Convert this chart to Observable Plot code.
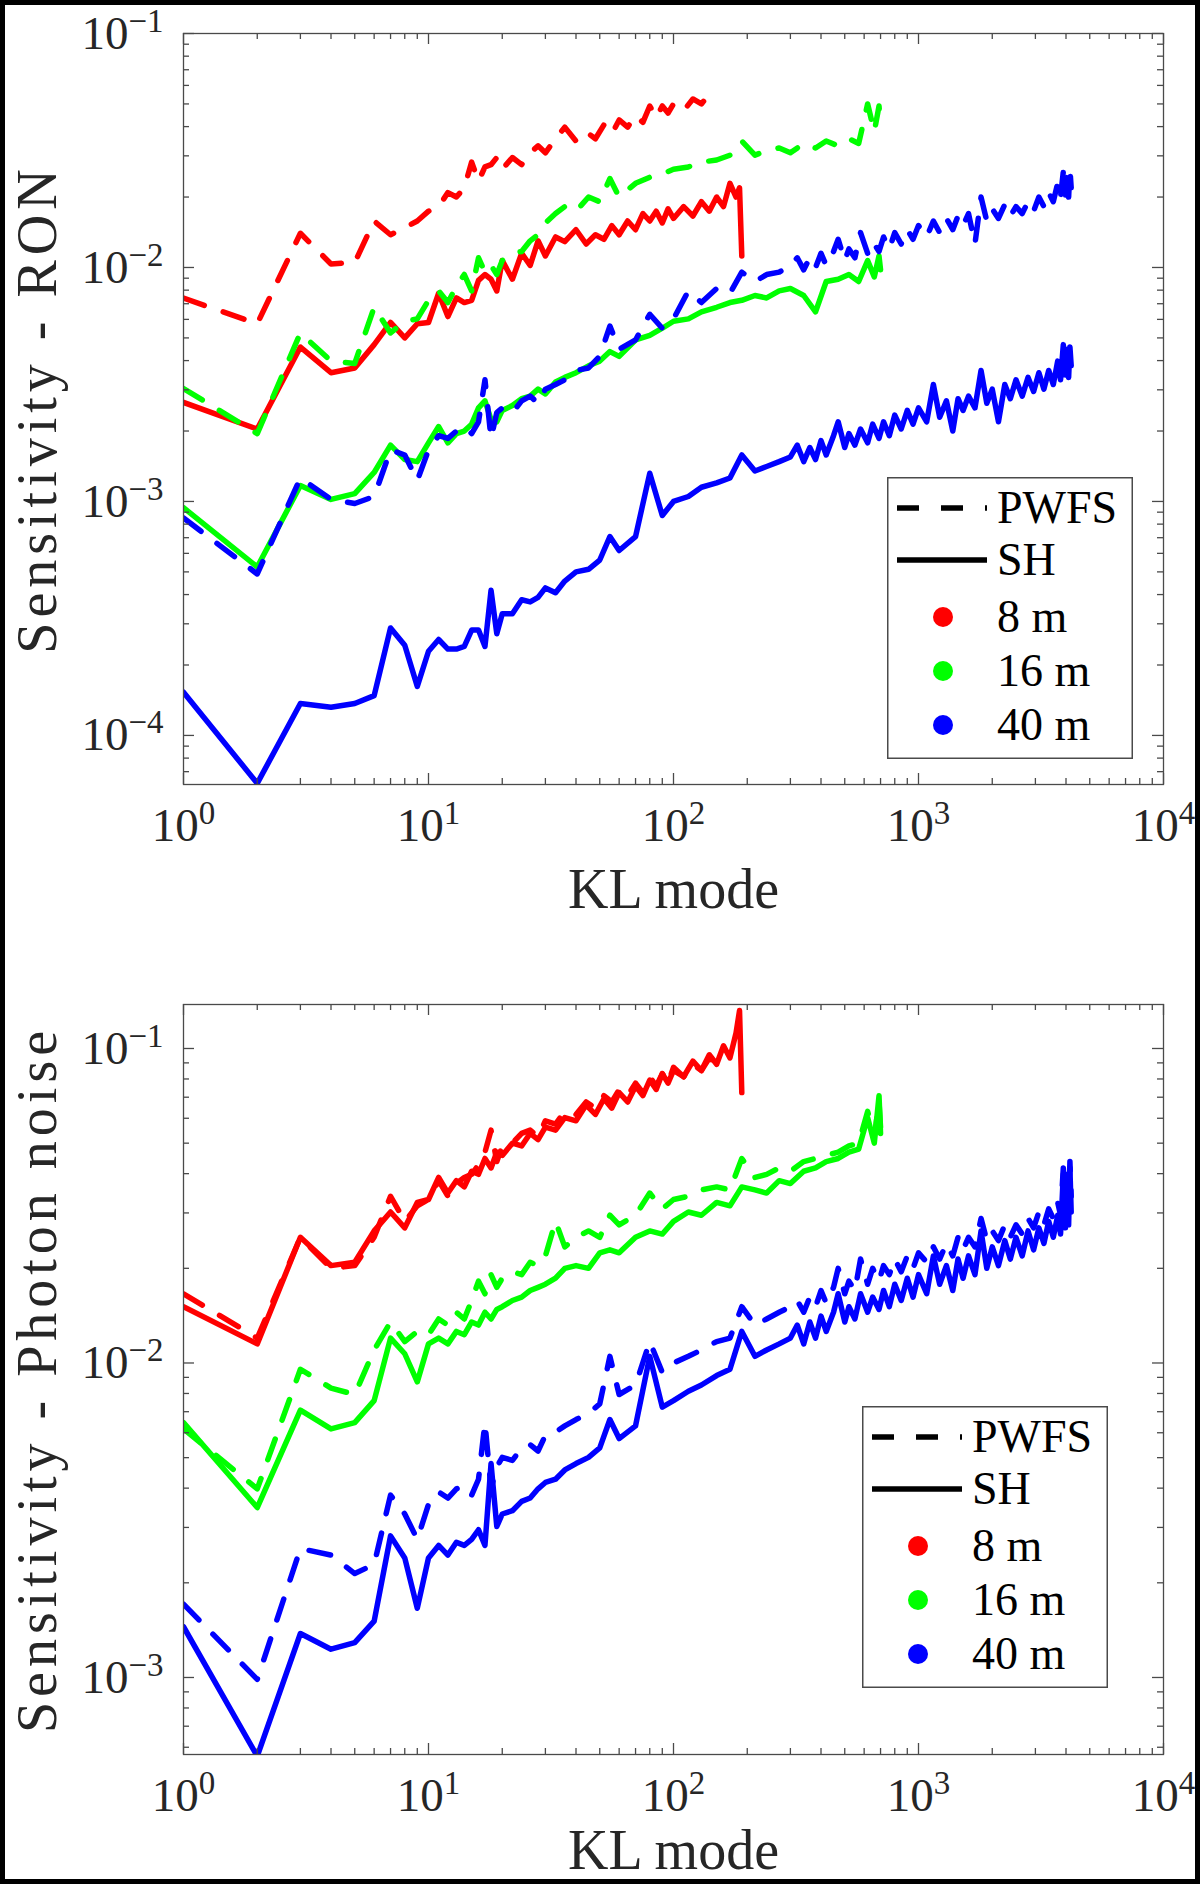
<!DOCTYPE html>
<html>
<head>
<meta charset="utf-8">
<script src="https://cdn.jsdelivr.net/npm/d3@7"></script>
<script src="https://cdn.jsdelivr.net/npm/@observablehq/plot@0.6"></script>
<style>
  body { margin: 0; background: #fff; }
  #page { position: relative; width: 1200px; height: 1884px; overflow: hidden; background: #fff; }
  .panel { position: absolute; left: 0; }
  #border { position: absolute; left: 0; top: 0; width: 1200px; height: 1884px; border: 5px solid #000; box-sizing: border-box; pointer-events: none; z-index: 10; }
</style>
</head>
<body>
<div id="page">
  <div id="top" class="panel" style="top:0"></div>
  <div id="bottom" class="panel" style="top:950px"></div>
  <div id="border"></div>
</div>
<script>
// KL mode numbers sampled for each telescope diameter
const modes8 = [1,2,3,4,5,6,7,8,9,10,11,12,13,14,15,16,17,18,19,20,22,24,26,28,30,33,36,40,44,48,52,56,60,65,70,75,80,85,90,95,100,110,120,130,140,150,160,170,180,186,190];
const modes16 = [1,2,3,4,5,6,7,8,9,10,11,12,13,14,15,16,17,18,19,20,22,24,26,28,30,33,36,40,45,50,55,60,70,80,90,100,115,130,150,170,190,215,240,270,300,340,380,420,470,520,570,620,660,690,700];
const modes40 = [1,2,3,4,5,6,7,8,9,10,11,12,13,14,15,16,17,18,19,20,22,24,26,28,30,33,36,40,45,50,55,60,70,80,90,100,115,130,150,170,190,215,240,270,300,
  320,340,360,380,400,420,450,470,500,520,550,580,620,650,690,720,760,800,850,900,950,1000,1080,1150,1220,1300,1380,1450,1520,1600,1700,1800,1900,2000,2120,2250,2370,2500,2650,2800,2950,3100,3250,3400,3550,3700,3800,3900,3980,4050,4100,4150,4200];

// sensitivity to read-out noise
const ronPwfs8 = [7.4e-3,5.75e-3,1.40e-2,1.035e-2,1.05e-2,1.58e-2,1.38e-2,1.48e-2,1.58e-2,1.74e-2,1.82e-2,2.09e-2,2.0e-2,2.19e-2,2.82e-2,2.34e-2,2.69e-2,2.75e-2,2.95e-2,2.63e-2,2.95e-2,2.75e-2,3.09e-2,3.31e-2,3.09e-2,3.55e-2,3.98e-2,3.47e-2,3.8e-2,3.55e-2,4.07e-2,3.72e-2,4.27e-2,3.98e-2,4.47e-2,4.17e-2,4.9e-2,4.37e-2,4.9e-2,4.57e-2,5.0e-2,4.68e-2,5.25e-2,5.0e-2,5.5e-2,5.75e-2];
const ronSh8 = [2.65e-3,2.04e-3,4.57e-3,3.55e-3,3.72e-3,4.68e-3,5.82e-3,5.0e-3,5.75e-3,5.82e-3,7.76e-3,6.17e-3,7.41e-3,7.08e-3,7.24e-3,8.81e-3,9.33e-3,8.91e-3,7.94e-3,1.07e-2,8.91e-3,1.15e-2,1.02e-2,1.30e-2,1.12e-2,1.35e-2,1.29e-2,1.45e-2,1.26e-2,1.38e-2,1.32e-2,1.51e-2,1.38e-2,1.58e-2,1.45e-2,1.70e-2,1.58e-2,1.74e-2,1.55e-2,1.78e-2,1.62e-2,1.82e-2,1.66e-2,1.91e-2,1.74e-2,2.0e-2,1.82e-2,2.29e-2,2.0e-2,2.19e-2,1.12e-2];
const ronPwfs16 = [3.04e-3,1.95e-3,5.25e-3,3.98e-3,3.89e-3,6.76e-3,5.25e-3,5.89e-3,6.03e-3,7.24e-3,7.94e-3,7.08e-3,8.32e-3,9.33e-3,7.94e-3,1.10e-2,9.55e-3,1.02e-2,9.33e-3,1.07e-2,1.15e-2,1.17e-2,1.30e-2,1.38e-2,1.55e-2,1.70e-2,1.82e-2,1.74e-2,2.0e-2,1.91e-2,2.40e-2,2.0e-2,2.29e-2,2.43e-2,2.51e-2,2.63e-2,2.69e-2,2.82e-2,2.88e-2,3.02e-2,3.47e-2,3.02e-2,3.16e-2,3.24e-2,3.09e-2,3.39e-2,3.24e-2,3.47e-2,3.31e-2,3.55e-2,3.39e-2,5.0e-2,3.8e-2,4.9e-2,3.98e-2];
const ronSh16 = [9.4e-4,5.25e-4,1.17e-3,1.02e-3,1.08e-3,1.33e-3,1.74e-3,1.51e-3,1.48e-3,1.78e-3,2.09e-3,1.78e-3,1.95e-3,2.0e-3,2.14e-3,2.51e-3,2.69e-3,2.24e-3,2.19e-3,2.45e-3,2.57e-3,2.75e-3,2.82e-3,3.02e-3,2.88e-3,3.24e-3,3.39e-3,3.55e-3,3.8e-3,3.98e-3,4.37e-3,4.17e-3,4.9e-3,5.13e-3,5.5e-3,5.89e-3,6.03e-3,6.46e-3,6.76e-3,7.08e-3,7.24e-3,7.59e-3,7.41e-3,7.94e-3,8.13e-3,7.59e-3,6.46e-3,8.71e-3,8.91e-3,9.33e-3,8.71e-3,1.07e-2,9.12e-3,1.12e-2,9.77e-3];
const ronPwfs40 = [8.5e-4,4.9e-4,1.26e-3,1.02e-3,9.8e-4,1.05e-3,1.66e-3,1.58e-3,1.23e-3,1.66e-3,1.91e-3,1.86e-3,2.0e-3,2.09e-3,1.95e-3,2.19e-3,3.31e-3,1.86e-3,2.40e-3,2.51e-3,2.40e-3,2.69e-3,2.82e-3,2.63e-3,3.02e-3,3.16e-3,3.31e-3,3.63e-3,3.72e-3,4.17e-3,5.62e-3,4.47e-3,4.9e-3,6.31e-3,5.5e-3,6.03e-3,7.94e-3,7.08e-3,8.13e-3,7.76e-3,9.55e-3,8.71e-3,9.33e-3,9.55e-3,1.02e-2,
  1.10e-2,9.77e-3,1.10e-2,1.0e-2,1.15e-2,1.02e-2,1.17e-2,1.32e-2,1.07e-2,1.20e-2,1.10e-2,1.41e-2,1.15e-2,1.29e-2,1.17e-2,1.35e-2,1.20e-2,1.41e-2,1.26e-2,1.45e-2,1.32e-2,1.51e-2,1.35e-2,1.58e-2,1.41e-2,1.62e-2,1.45e-2,1.66e-2,1.51e-2,1.70e-2,1.26e-2,2.0e-2,1.58e-2,1.78e-2,1.62e-2,1.86e-2,1.66e-2,1.82e-2,1.70e-2,1.91e-2,1.74e-2,2.0e-2,1.82e-2,2.09e-2,1.91e-2,2.29e-2,2.0e-2,2.57e-2,2.04e-2,2.51e-2,2.0e-2,2.63e-2,2.19e-2];
const ronSh40 = [1.53e-4,6.24e-5,1.37e-4,1.32e-4,1.37e-4,1.48e-4,2.88e-4,2.43e-4,1.62e-4,2.29e-4,2.57e-4,2.34e-4,2.34e-4,2.40e-4,2.82e-4,2.82e-4,2.40e-4,4.17e-4,2.72e-4,3.31e-4,3.31e-4,3.8e-4,3.72e-4,3.89e-4,4.27e-4,4.07e-4,4.57e-4,5.0e-4,5.13e-4,5.62e-4,7.08e-4,6.17e-4,7.08e-4,1.32e-3,8.71e-4,1.0e-3,1.05e-3,1.15e-3,1.20e-3,1.26e-3,1.58e-3,1.35e-3,1.41e-3,1.48e-3,1.55e-3,
  1.74e-3,1.48e-3,1.70e-3,1.51e-3,1.82e-3,1.58e-3,1.91e-3,2.19e-3,1.70e-3,1.95e-3,1.74e-3,2.04e-3,1.78e-3,2.14e-3,1.86e-3,2.19e-3,1.91e-3,2.34e-3,2.04e-3,2.45e-3,2.14e-3,2.51e-3,2.19e-3,3.16e-3,2.29e-3,2.69e-3,2.0e-3,2.75e-3,2.45e-3,2.82e-3,2.51e-3,3.63e-3,2.63e-3,3.02e-3,2.19e-3,3.16e-3,2.75e-3,3.31e-3,2.82e-3,3.39e-3,2.95e-3,3.55e-3,3.02e-3,3.63e-3,3.16e-3,3.98e-3,3.31e-3,4.68e-3,3.47e-3,4.47e-3,3.39e-3,4.57e-3,3.8e-3];

// sensitivity to photon noise
const phPwfs8 = [1.66e-2,1.20e-2,2.51e-2,2.0e-2,2.04e-2,2.51e-2,3.39e-2,2.82e-2,3.16e-2,3.31e-2,3.8e-2,3.39e-2,3.72e-2,3.89e-2,3.98e-2,4.27e-2,4.68e-2,5.5e-2,4.37e-2,4.9e-2,5.0e-2,5.37e-2,5.5e-2,5.25e-2,5.89e-2,5.75e-2,6.31e-2,6.17e-2,6.76e-2,6.46e-2,7.08e-2,6.76e-2,7.41e-2,7.08e-2,7.76e-2,7.24e-2,8.13e-2,7.59e-2,8.32e-2,7.76e-2,8.71e-2,8.13e-2,8.91e-2,8.51e-2,9.33e-2,8.91e-2];
const phSh8 = [1.51e-2,1.15e-2,2.51e-2,2.04e-2,2.09e-2,2.63e-2,3.02e-2,2.69e-2,3.24e-2,3.31e-2,3.89e-2,3.47e-2,3.8e-2,3.63e-2,4.07e-2,3.98e-2,4.47e-2,4.17e-2,4.68e-2,4.57e-2,5.0e-2,4.9e-2,5.37e-2,5.13e-2,5.62e-2,5.5e-2,6.03e-2,5.89e-2,6.61e-2,6.17e-2,6.92e-2,6.46e-2,7.24e-2,6.76e-2,7.59e-2,7.08e-2,7.94e-2,7.41e-2,8.32e-2,7.76e-2,8.51e-2,8.13e-2,9.12e-2,8.51e-2,9.55e-2,8.91e-2,1.02e-1,9.33e-2,1.12e-1,1.32e-1,7.24e-2];
const phPwfs16 = [6.17e-3,3.98e-3,9.55e-3,8.32e-3,7.94e-3,1.10e-2,1.35e-2,1.17e-2,1.26e-2,1.23e-2,1.38e-2,1.32e-2,1.45e-2,1.38e-2,1.58e-2,1.82e-2,1.66e-2,1.91e-2,1.74e-2,1.86e-2,1.95e-2,1.91e-2,2.09e-2,2.04e-2,2.19e-2,2.82e-2,2.34e-2,2.51e-2,2.63e-2,2.51e-2,2.95e-2,2.75e-2,2.95e-2,3.47e-2,3.09e-2,3.31e-2,3.39e-2,3.55e-2,3.63e-2,3.55e-2,4.47e-2,3.89e-2,3.98e-2,4.17e-2,4.07e-2,4.37e-2,4.47e-2,4.57e-2,4.68e-2,4.9e-2,5.0e-2,6.31e-2,5.25e-2,6.76e-2,5.62e-2];
const phSh16 = [6.46e-3,3.47e-3,7.08e-3,6.17e-3,6.46e-3,7.59e-3,1.20e-2,1.07e-2,8.71e-3,1.15e-2,1.20e-2,1.15e-2,1.26e-2,1.23e-2,1.35e-2,1.32e-2,1.45e-2,1.38e-2,1.48e-2,1.51e-2,1.58e-2,1.62e-2,1.70e-2,1.74e-2,1.78e-2,1.86e-2,2.0e-2,2.04e-2,2.0e-2,2.24e-2,2.29e-2,2.24e-2,2.51e-2,2.63e-2,2.57e-2,2.82e-2,3.02e-2,2.95e-2,3.24e-2,3.16e-2,3.63e-2,3.55e-2,3.47e-2,3.8e-2,3.72e-2,4.07e-2,4.17e-2,4.37e-2,4.47e-2,4.68e-2,4.79e-2,6.03e-2,5.0e-2,7.08e-2,5.37e-2];
const phPwfs40 = [1.71e-3,9.86e-4,2.57e-3,2.45e-3,2.14e-3,2.29e-3,3.8e-3,3.31e-3,2.75e-3,3.55e-3,3.89e-3,3.72e-3,3.98e-3,4.07e-3,3.8e-3,4.27e-3,6.46e-3,3.98e-3,4.68e-3,5.01e-3,4.9e-3,5.37e-3,5.5e-3,5.25e-3,5.89e-3,6.03e-3,6.31e-3,6.61e-3,6.92e-3,7.41e-3,1.05e-2,7.94e-3,8.51e-3,1.17e-2,9.33e-3,1.0e-2,1.05e-2,1.10e-2,1.17e-2,1.20e-2,1.51e-2,1.32e-2,1.38e-2,1.45e-2,1.51e-2,
  1.58e-2,1.45e-2,1.62e-2,1.51e-2,1.70e-2,1.55e-2,1.74e-2,2.0e-2,1.66e-2,1.82e-2,1.70e-2,2.14e-2,1.78e-2,2.0e-2,1.82e-2,2.04e-2,1.91e-2,2.14e-2,1.95e-2,2.19e-2,2.0e-2,2.24e-2,2.09e-2,2.34e-2,2.14e-2,2.40e-2,2.19e-2,2.51e-2,2.29e-2,2.51e-2,2.34e-2,2.88e-2,2.45e-2,2.63e-2,2.45e-2,2.75e-2,2.51e-2,2.75e-2,2.57e-2,2.88e-2,2.69e-2,3.02e-2,2.75e-2,3.09e-2,2.88e-2,3.24e-2,2.95e-2,4.17e-2,3.02e-2,3.98e-2,3.09e-2,4.37e-2,3.39e-2];
const phSh40 = [1.45e-3,5.62e-4,1.38e-3,1.23e-3,1.29e-3,1.51e-3,2.82e-3,2.40e-3,1.66e-3,2.40e-3,2.63e-3,2.45e-3,2.69e-3,2.63e-3,2.75e-3,2.95e-3,2.63e-3,4.79e-3,3.02e-3,3.31e-3,3.39e-3,3.63e-3,3.72e-3,3.98e-3,4.17e-3,4.27e-3,4.57e-3,4.79e-3,5.01e-3,5.37e-3,6.61e-3,5.75e-3,6.31e-3,1.05e-2,7.24e-3,7.59e-3,8.13e-3,8.51e-3,9.12e-3,9.55e-3,1.26e-2,1.05e-2,1.10e-2,1.15e-2,1.20e-2,
  1.32e-2,1.15e-2,1.35e-2,1.20e-2,1.41e-2,1.26e-2,1.45e-2,1.66e-2,1.35e-2,1.51e-2,1.38e-2,1.66e-2,1.45e-2,1.62e-2,1.48e-2,1.70e-2,1.51e-2,1.78e-2,1.58e-2,1.86e-2,1.62e-2,1.91e-2,1.66e-2,2.19e-2,1.78e-2,2.04e-2,1.70e-2,2.14e-2,1.86e-2,2.19e-2,1.91e-2,2.63e-2,2.0e-2,2.34e-2,2.04e-2,2.45e-2,2.14e-2,2.51e-2,2.19e-2,2.63e-2,2.29e-2,2.69e-2,2.40e-2,2.82e-2,2.51e-2,2.95e-2,2.57e-2,3.98e-2,2.69e-2,3.8e-2,2.75e-2,4.17e-2,3.02e-2];

// axis ticks
const xMajor = [1, 10, 100, 1000, 10000];
const ronMajor = [1e-4, 1e-3, 1e-2, 1e-1];
const phMajor = [1e-3, 1e-2, 1e-1];
const minorSteps = [2, 3, 4, 5, 6, 7, 8, 9];

const legendLabels = ["PWFS", "SH", "8 m", "16 m", "40 m"];
const colors = {8: "#ff0000", 16: "#00ff00", 40: "#0000ff"};
const axisColor = "#4a4a4a";
const textColor = "#262626";
const font = "'Liberation Serif', 'DejaVu Serif', serif";

function rows(modes, values) {
  return modes.map((mode, i) => ({mode, value: values[i]})).filter(d => d.value != null);
}

function minors(decades, domain) {
  return decades.flatMap(d => minorSteps.map(s => s * d)).filter(v => v > domain[0] && v < domain[1]);
}

function expFormat(d) {
  return "10^" + String(Math.round(Math.log10(d))).replace("-", "\u2212");
}

function superscripts(svg) {
  d3.select(svg).selectAll('g[aria-label$="tick label"] text').each(function() {
    const t = this.textContent;
    if (!t.includes("^")) return;
    const [base, exp] = t.split("^");
    const sel = d3.select(this);
    sel.text(null);
    sel.append("tspan").text(base);
    sel.append("tspan").attr("dy", -17).attr("font-size", 33).text(exp);
  });
  // the rotated axis title is wider in the original typeface
  d3.select(svg).selectAll("text").filter(function() { return this.textContent.startsWith("Sensitivity"); })
    .style("letter-spacing", "5px");
}

function panel({el, height, marginTop, marginBottom, xlabelOffset, yDomain, yMajor, series, ylabel}) {
  const marginLeft = 183, marginRight = 37;
  const innerW = 1200 - marginLeft - marginRight;
  const innerH = height - marginTop - marginBottom;
  const xMinor = minors([1, 10, 100, 1000], [1, 1e4]);
  const yMinor = minors([1e-5, 1e-4, 1e-3, 1e-2, 1e-1], yDomain);
  const tick = {stroke: axisColor, strokeWidth: 1.3};

  const chart = Plot.plot({
    width: 1200,
    height,
    marginLeft, marginRight, marginTop, marginBottom,
    style: {fontFamily: font, fontSize: "47px", color: textColor, background: "transparent", overflow: "visible"},
    x: {type: "log", domain: [1, 1e4]},
    y: {type: "log", domain: yDomain},
    marks: [
      ...series.map(s => Plot.line(rows(s.modes, s.values), {
        x: "mode", y: "value",
        stroke: colors[s.d], strokeWidth: 5.5,
        strokeDasharray: s.wfs === "PWFS" ? "22,20" : null,
        strokeLinejoin: "round",
        clip: true
      })),
      // inward ticks on all four sides, like a boxed matlab axis
      Plot.tickX(xMajor, {x: d => d, insetTop: innerH - 11, ...tick}),
      Plot.tickX(xMajor, {x: d => d, insetBottom: innerH - 11, ...tick}),
      Plot.tickX(xMinor, {x: d => d, insetTop: innerH - 6, ...tick}),
      Plot.tickX(xMinor, {x: d => d, insetBottom: innerH - 6, ...tick}),
      Plot.tickY(yMajor, {y: d => d, insetRight: innerW - 11, ...tick}),
      Plot.tickY(yMajor, {y: d => d, insetLeft: innerW - 11, ...tick}),
      Plot.tickY(yMinor, {y: d => d, insetRight: innerW - 6, ...tick}),
      Plot.tickY(yMinor, {y: d => d, insetLeft: innerW - 6, ...tick}),
      Plot.frame({stroke: axisColor, strokeWidth: 1.3}),
      Plot.axisX({ticks: xMajor, tickSize: 0, tickPadding: 23, tickFormat: expFormat, label: null}),
      Plot.axisY({ticks: yMajor, tickSize: 0, tickPadding: 20, tickFormat: expFormat, label: null}),
      Plot.text(["KL mode"], {frameAnchor: "bottom", dy: xlabelOffset, lineAnchor: "middle", fontSize: 56, fill: textColor}),
      Plot.text([ylabel], {frameAnchor: "left", dx: -145, rotate: -90, textAnchor: "middle", lineAnchor: "middle", fontSize: 56, fill: textColor})
    ]
  });
  superscripts(chart);
  document.getElementById(el).append(chart);
}

function legend(left, top) {
  const w = 246, h = 282;
  const rowY = [31, 83, 140, 194, 248];
  const svg = d3.create("svg")
    .attr("width", w).attr("height", h)
    .style("position", "absolute").style("left", left + "px").style("top", top + "px")
    .style("z-index", 5);
  svg.append("rect")
    .attr("x", 0.75).attr("y", 0.75).attr("width", w - 1.5).attr("height", h - 1.5)
    .attr("fill", "#fff").attr("stroke", axisColor).attr("stroke-width", 1.5);
  svg.append("line").attr("x1", 10).attr("x2", 100).attr("y1", rowY[0]).attr("y2", rowY[0])
    .attr("stroke", "#000").attr("stroke-width", 5.5).attr("stroke-dasharray", "22,22");
  svg.append("line").attr("x1", 10).attr("x2", 100).attr("y1", rowY[1]).attr("y2", rowY[1])
    .attr("stroke", "#000").attr("stroke-width", 5.5);
  [8, 16, 40].forEach((d, i) => {
    svg.append("circle").attr("cx", 56).attr("cy", rowY[i + 2]).attr("r", 10).attr("fill", colors[d]);
  });
  legendLabels.forEach((label, i) => {
    svg.append("text").attr("x", 110).attr("y", rowY[i] + 15)
      .attr("font-family", font).attr("font-size", 46).attr("fill", "#000")
      .text(label);
  });
  document.getElementById("page").append(svg.node());
}

panel({
  el: "top", height: 950, marginTop: 33, marginBottom: 166, xlabelOffset: 106,
  yDomain: [6.17e-5, 0.1], yMajor: ronMajor,
  ylabel: "Sensitivity - RON",
  series: [
    {modes: modes8, values: ronPwfs8, d: 8, wfs: "PWFS"},
    {modes: modes8, values: ronSh8, d: 8, wfs: "SH"},
    {modes: modes16, values: ronPwfs16, d: 16, wfs: "PWFS"},
    {modes: modes16, values: ronSh16, d: 16, wfs: "SH"},
    {modes: modes40, values: ronPwfs40, d: 40, wfs: "PWFS"},
    {modes: modes40, values: ronSh40, d: 40, wfs: "SH"}
  ]
});

panel({
  el: "bottom", height: 934, marginTop: 54, marginBottom: 130, xlabelOffset: 97,
  yDomain: [5.69e-4, 0.138], yMajor: phMajor,
  ylabel: "Sensitivity - Photon noise",
  series: [
    {modes: modes8, values: phPwfs8, d: 8, wfs: "PWFS"},
    {modes: modes8, values: phSh8, d: 8, wfs: "SH"},
    {modes: modes16, values: phPwfs16, d: 16, wfs: "PWFS"},
    {modes: modes16, values: phSh16, d: 16, wfs: "SH"},
    {modes: modes40, values: phPwfs40, d: 40, wfs: "PWFS"},
    {modes: modes40, values: phSh40, d: 40, wfs: "SH"}
  ]
});

legend(887, 477);
legend(862, 1406);
</script>
</body>
</html>
